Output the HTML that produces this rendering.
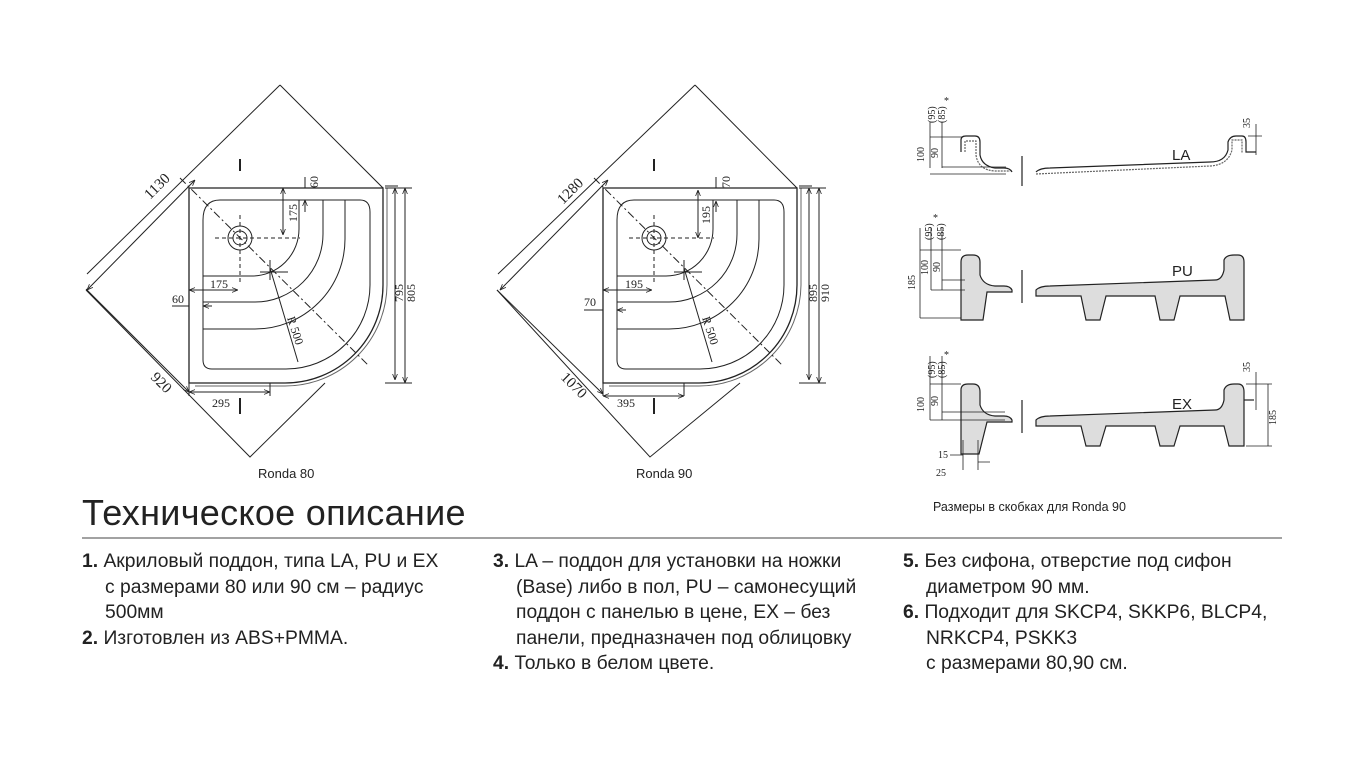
<!DOCTYPE html>
<html><head><meta charset="utf-8"><style>
body{margin:0;background:#fff;width:1360px;height:768px;overflow:hidden;font-family:"Liberation Sans",sans-serif;}
svg{position:absolute;left:0;top:0}
.h{position:absolute;left:82px;top:492px;font-size:36px;color:#222;letter-spacing:0.3px}
.col{position:absolute;top:549px;font-size:19.3px;line-height:25.5px;color:#222}
.col b{font-weight:bold}
.in{padding-left:23px}
</style></head><body>
<svg width="1360" height="768" viewBox="0 0 1360 768" font-family="Liberation Serif" font-size="12" fill="none" stroke="#222" stroke-width="1">
<defs>
<marker id="a" viewBox="0 0 10 10" refX="10" refY="5" markerWidth="6" markerHeight="6" orient="auto-start-reverse"><path d="M0,1 L10,5 L0,9" fill="none" stroke="#222" stroke-width="1.3"/></marker>
<g id="tray">
<path d="M189,188 H383 V285 A98,98 0 0 1 285,383 H189 Z" stroke-width="1.3"/>
<path d="M387,188 V285 A102,102 0 0 1 285,386 H195" stroke="#666"/>
<path d="M220,200 H360 Q370,200 370,212 V285 A84,84 0 0 1 286,369 H212 Q203,369 203,360 V220 Q203,200 220,200 Z"/>
<path d="M203,276 H252 A47,47 0 0 0 299,229 V200"/>
<path d="M203,302 H255 A68,68 0 0 0 323,234 V200"/>
<path d="M203,329 H255 A90,90 0 0 0 345,239 V200"/>
<circle cx="240" cy="238" r="12"/><circle cx="240" cy="238" r="7"/>
<path d="M215,238 H300 M240,215 V285" stroke-dasharray="4,3"/>
<path d="M180,178 L368,365" stroke-dasharray="8,3,2,3"/>
<path d="M270,268 L298,362" />
<path d="M270,260 V280 M260,272 H288"/>
<path d="M240,159 V171" stroke-width="2"/><path d="M240,398 V414" stroke-width="2"/>
<path d="M189,375 V396 M270,383 V396"/>
<path d="M385,188 H412 M385,383 H412 M385,186 H398"/>
</g>
</defs>

<use href="#tray"/>
<path d="M280,85 L87,274 M280,85 L383,188 M86,290 L250,457 L325,383" />
<path d="M195,180 L87,290" marker-start="url(#a)" marker-end="url(#a)"/>
<path d="M86,289 L189,392" marker-end="url(#a)"/>
<path d="M405,188 V383" marker-start="url(#a)" marker-end="url(#a)"/>
<path d="M395,188 V380" marker-start="url(#a)" marker-end="url(#a)"/>
<path d="M283,188 V235" marker-start="url(#a)" marker-end="url(#a)"/>
<path d="M305,177 V188 M305,212 V200" marker-end="url(#a)"/>
<path d="M189,290 H238" marker-start="url(#a)" marker-end="url(#a)"/>
<path d="M172,306 H189 M212,306 H203" marker-end="url(#a)"/>
<path d="M189,392 H270" marker-start="url(#a)" marker-end="url(#a)"/>
<g fill="#222" stroke="none">
<text font-size="15" transform="translate(150,200) rotate(-45)">1130</text>
<text font-size="15" transform="translate(150,378) rotate(45)">920</text>
<text x="210" y="288">175</text><text x="172" y="303">60</text><text x="212" y="407">295</text>
<text transform="translate(297,222) rotate(-90)">175</text>
<text transform="translate(318,188) rotate(-90)">60</text>
<text transform="translate(403,302) rotate(-90)">795</text>
<text transform="translate(415,302) rotate(-90)">805</text>
<text transform="translate(287,318) rotate(72)">R 500</text>
<text x="258" y="478" font-family="Liberation Sans" font-size="13">Ronda 80</text>
</g>

<use href="#tray" transform="translate(414,0)"/>
<path d="M695,85 L498,274 M695,85 L797,188 M497,290 L650,457 L740,383"/>
<path d="M608,180 L500,290" marker-start="url(#a)" marker-end="url(#a)"/>
<path d="M497,290 L603,394" marker-end="url(#a)"/>
<path d="M819,188 V383" marker-start="url(#a)" marker-end="url(#a)"/>
<path d="M809,188 V380" marker-start="url(#a)" marker-end="url(#a)"/>
<path d="M698,190 V238" marker-start="url(#a)" marker-end="url(#a)"/>
<path d="M716,177 V188 M716,212 V201" marker-end="url(#a)"/>
<path d="M603,290 H652" marker-start="url(#a)" marker-end="url(#a)"/>
<path d="M584,310 H603 M626,310 H617" marker-end="url(#a)"/>
<path d="M603,396 H684" marker-start="url(#a)" marker-end="url(#a)"/>
<g fill="#222" stroke="none">
<text font-size="15" transform="translate(563,205) rotate(-45)">1280</text>
<text font-size="15" transform="translate(560,378) rotate(45)">1070</text>
<text x="625" y="288">195</text><text x="584" y="306">70</text><text x="617" y="407">395</text>
<text transform="translate(710,224) rotate(-90)">195</text>
<text transform="translate(730,188) rotate(-90)">70</text>
<text transform="translate(817,302) rotate(-90)">895</text>
<text transform="translate(829,302) rotate(-90)">910</text>
<text transform="translate(702,318) rotate(72)">R 500</text>
<text x="636" y="478" font-family="Liberation Sans" font-size="13">Ronda 90</text>
</g>

<g stroke-width="1.2">
<path d="M961,152 V140 Q961,136 966,136 H975 Q980,136 980,142 V155 Q982,166 995,168 H1004 Q1010,168 1012,172"/>
<path d="M965,152 V141 H976 V155 Q978,170 995,171 H1010" stroke-dasharray="2,1" stroke="#666"/>
<path d="M1022,156 V186"/>
<path d="M1036,172 Q1040,168 1050,168 L1210,162 Q1225,162 1228,150 V142 Q1230,136 1236,136 H1242 Q1246,136 1246,142 V152 H1256"/>
<path d="M1036,174 L1210,166 Q1228,165 1232,150 V140 H1242 V153" stroke-dasharray="2,1" stroke="#666"/>
<path d="M961,320 V262 Q961,255 968,255 H973 Q980,255 980,262 V275 Q983,285 995,286 H1004 Q1010,286 1012,290 V292 H987 L983,320 Z" fill="#ddd"/>
<path d="M1022,270 V303"/>
<path d="M1036,290 Q1040,286 1050,286 L1215,280 Q1222,280 1224,270 V260 Q1226,255 1234,255 H1238 Q1244,255 1244,262 V320 H1230 L1225,296 H1180 L1174,320 H1160 L1155,296 H1106 L1100,320 H1086 L1081,296 H1036 Z" fill="#ddd"/>
<path d="M961,454 V390 Q961,384 968,384 H973 Q980,384 980,392 V405 Q983,415 995,416 H1004 Q1010,416 1012,420 V422 H987 L979,454 Z" fill="#ddd"/>
<path d="M1022,400 V433"/>
<path d="M1036,420 Q1040,416 1050,416 L1215,410 Q1222,410 1224,400 V390 Q1226,384 1234,384 H1238 Q1244,384 1244,392 V446 H1229 L1224,426 H1180 L1174,446 H1160 L1155,426 H1106 L1100,446 H1086 L1081,426 H1036 Z" fill="#ddd"/>
<path d="M1244,400 H1254"/>
</g>
<g stroke-width="0.8">
<path d="M930,122 V168 M942,122 V168 M930,137 H962 M942,167 H1006 M930,174 H1006" />
<path d="M1248,136 H1262 M1256,124 V155" />
<path d="M920,228 V318 M931,228 V290 M942,228 V290 M920,250 H961 M942,280 H965 M931,290 H965 M920,318 H961"/>
<path d="M930,356 V420 M942,356 V420 M930,384 H961 M942,412 H1005 M930,420 H1005"/>
<path d="M1246,384 H1272 M1256,372 V410 M1246,446 H1272 M1268,384 V446"/>
<path d="M963,440 V470 M978,440 V470 M950,455 H963 M990,462 H978"/>
</g>
<g fill="#222" stroke="none" font-size="10">
<text transform="translate(935,123) rotate(-90)">(95)</text><text transform="translate(945,123) rotate(-90)">(85)</text><text x="944" y="104">*</text>
<text transform="translate(924,162) rotate(-90)">100</text><text transform="translate(938,158) rotate(-90)">90</text>
<text transform="translate(1250,128) rotate(-90)">35</text>
<text x="1172" y="160" font-family="Liberation Sans" font-size="15">LA</text>
<text transform="translate(932,240) rotate(-90)">(95)</text><text transform="translate(944,240) rotate(-90)">(85)</text><text x="933" y="221">*</text>
<text transform="translate(915,290) rotate(-90)">185</text><text transform="translate(928,275) rotate(-90)">100</text><text transform="translate(940,272) rotate(-90)">90</text>
<text x="1172" y="276" font-family="Liberation Sans" font-size="15">PU</text>
<text transform="translate(935,378) rotate(-90)">(95)</text><text transform="translate(945,378) rotate(-90)">(85)</text><text x="944" y="358">*</text>
<text transform="translate(924,412) rotate(-90)">100</text><text transform="translate(938,406) rotate(-90)">90</text>
<text transform="translate(1250,372) rotate(-90)">35</text><text transform="translate(1276,425) rotate(-90)">185</text>
<text x="1172" y="409" font-family="Liberation Sans" font-size="15">EX</text>
<text x="938" y="458">15</text><text x="936" y="476">25</text>
<text x="933" y="511" font-family="Liberation Sans" font-size="12.5">Размеры в скобках для Ronda 90</text>
</g>
<path d="M82,538 H1282" stroke="#444"/>
</svg>
<div class="h">Техническое описание</div>
<div class="col" style="left:82px;width:400px"><b>1.</b> Акриловый поддон, типа LA, PU и EX<div class="in">с размерами 80 или 90 см – радиус<br>500мм</div><b>2.</b> Изготовлен из ABS+PMMA.</div>
<div class="col" style="left:493px;width:410px"><b>3.</b> LA – поддон для установки на ножки<div class="in">(Base) либо в пол, PU – самонесущий<br>поддон с панелью в цене, EX – без<br>панели, предназначен под облицовку</div><b>4.</b> Только в белом цвете.</div>
<div class="col" style="left:903px;width:420px"><b>5.</b> Без сифона, отверстие под сифон<div class="in">диаметром 90 мм.</div><b>6.</b> Подходит для SKCP4, SKKP6, BLCP4,<div class="in">NRKCP4, PSKK3<br>с размерами 80,90 см.</div></div>
</body></html>
